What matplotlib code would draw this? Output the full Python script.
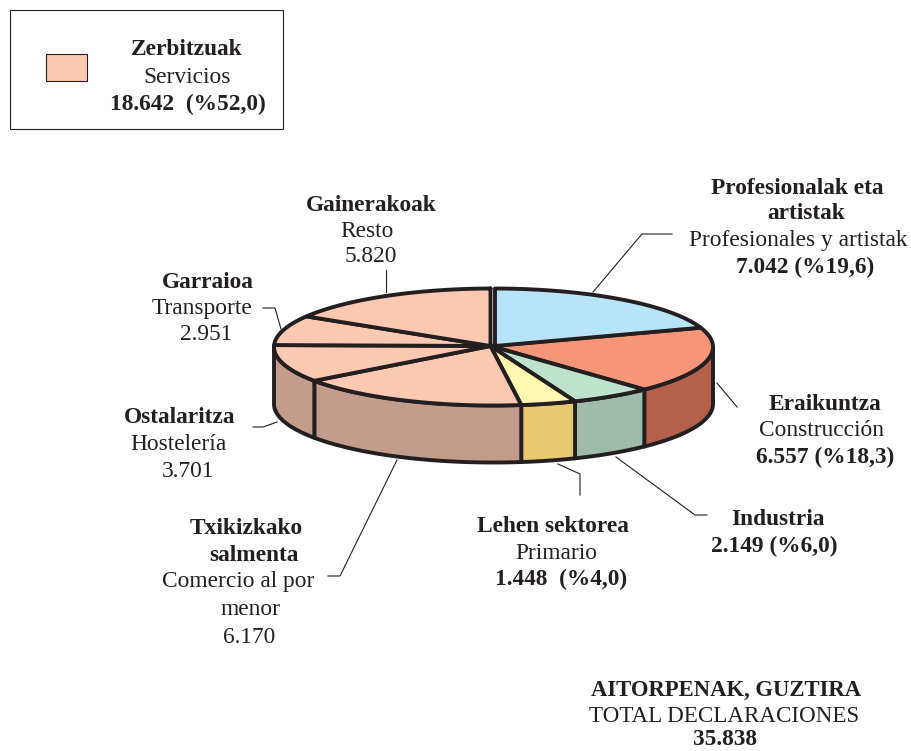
import numpy as np
import matplotlib
matplotlib.use('Agg')
import matplotlib.pyplot as plt

# sectores, en el orden del grafico (sentido horario desde arriba)
sectors = ['Profesionales', 'Construccion', 'Industria', 'Primario',
           'Comercio', 'Hosteleria', 'Transporte', 'Resto']
values = [7042, 6557, 2149, 1448, 6170, 3701, 2951, 5820]
top_colors = ['#B8E4FA', '#F59678', '#BEE3CC', '#FFF8AE',
              '#FBC8B2', '#FBC8B2', '#FBC8B2', '#FBC8B2']
side_colors = ['#8FB5C8', '#B5604A', '#9FBBA9', '#E8C971',
               '#C49C8B', '#C49C8B', '#C49C8B', '#C49C8B']

legend_lines = [('Zerbitzuak', True), ('Servicios', False), ('18.642  (%52,0)', True)]
total_lines = [('AITORPENAK, GUZTIRA', True), ('TOTAL DECLARACIONES', False), ('35.838', True)]

# texto: (x centro, linea base, cadena, negrita)
labels = [
    (797, 194, 'Profesionalak eta', True), (806, 219, 'artistak', True),
    (798, 246, 'Profesionales y artistak', False), (805, 273, '7.042 (%19,6)', True),
    (371, 211, 'Gainerakoak', True), (367, 237, 'Resto', False), (371, 262, '5.820', False),
    (208, 288, 'Garraioa', True), (202, 314, 'Transporte', False), (206, 340, '2.951', False),
    (180, 423, 'Ostalaritza', True), (178, 450, 'Hostelería', False), (188, 477, '3.701', False),
    (825, 410, 'Eraikuntza', True), (822, 436, 'Construcción', False), (825, 463, '6.557 (%18,3)', True),
    (778, 525, 'Industria', True), (774, 552, '2.149 (%6,0)', True),
    (553, 532, 'Lehen sektorea', True), (556, 559, 'Primario', False), (561, 585, '1.448  (%4,0)', True),
    (246, 534, 'Txikizkako', True), (254, 561, 'salmenta', True), (238, 587, 'Comercio al por', False),
    (250, 615, 'menor', False), (249, 643, '6.170', False),
]

leaders = [
    [(593, 292), (642, 234), (672, 234)],
    [(386, 292), (386, 270)],
    [(281, 329), (275, 308), (263, 308)],
    [(277, 422), (263, 427), (253, 427)],
    [(397, 460), (340, 576), (328, 576)],
    [(558, 464), (580, 474), (580, 495)],
    [(616, 457), (695, 515), (707, 515)],
    [(717, 383), (737, 407)],
]

DARK = '#231F20'
cx, cy, rx, ry, depth = 493.5, 347, 219.5, 58.5, 57
LW = 2.8
FS = 16.8

plt.rcParams['font.family'] = ['Liberation Serif', 'DejaVu Serif']

fig = plt.figure(figsize=(9.11, 7.51), dpi=100)
ax = fig.add_axes([0, 0, 1, 1])
ax.set_xlim(0, 911)
ax.set_ylim(751, 0)
ax.axis('off')


def arc(t1, t2):
    t = np.radians(np.linspace(t1, t2, 80))
    return cx + rx * np.sin(t), cy - ry * np.cos(t)


cuts = np.concatenate([[0], np.cumsum(values)]) / sum(values) * 360

# lineas guia, debajo de la tarta
for pts in leaders:
    xs, ys = zip(*pts)
    ax.plot(xs, ys, color=DARK, lw=0.8, zorder=1)

# pared frontal
for i in range(len(values)):
    t1, t2 = max(cuts[i], 90), min(cuts[i + 1], 270)
    if t2 <= t1:
        continue
    x, y = arc(t1, t2)
    ax.fill(np.r_[x, x[::-1]], np.r_[y, y[::-1] + depth], facecolor=side_colors[i],
            edgecolor=DARK, lw=LW, joinstyle='round', zorder=2)

# cara superior; el primer sector va un poco separado
for i in range(len(values)):
    x, y = arc(cuts[i], cuts[i + 1])
    if i == 0:
        x0 = cx + 1.5
        x = np.maximum(x, x0)
    else:
        x0 = cx - 3
    if i == len(values) - 1:
        x = np.minimum(x, x0)
    ax.fill(np.r_[x0, x], np.r_[cy - 1, y], facecolor=top_colors[i],
            edgecolor=DARK, lw=LW, joinstyle='round', zorder=3 if i else 4)

for x, y, s, bold in labels:
    ax.text(x, y, s, ha='center', va='baseline', fontsize=FS, color=DARK,
            fontweight='bold' if bold else 'normal')

# recuadro de la leyenda
ax.add_patch(plt.Rectangle((10, 10), 273, 119, facecolor='white', edgecolor=DARK, lw=0.8))
ax.add_patch(plt.Rectangle((46, 54), 41, 27, facecolor=top_colors[4], edgecolor=DARK, lw=0.8))
for (s, bold), y, x in zip(legend_lines, [55, 83, 110], [187, 187, 188]):
    ax.text(x, y, s, ha='center', va='baseline', fontsize=FS, color=DARK,
            fontweight='bold' if bold else 'normal')

for (s, bold), y, x, fs in zip(total_lines, [696, 722, 745], [726, 724, 725], [16.3, 16.6, FS]):
    ax.text(x, y, s, ha='center', va='baseline', fontsize=fs, color=DARK,
            fontweight='bold' if bold else 'normal')

fig.savefig('out.png', dpi=100)
